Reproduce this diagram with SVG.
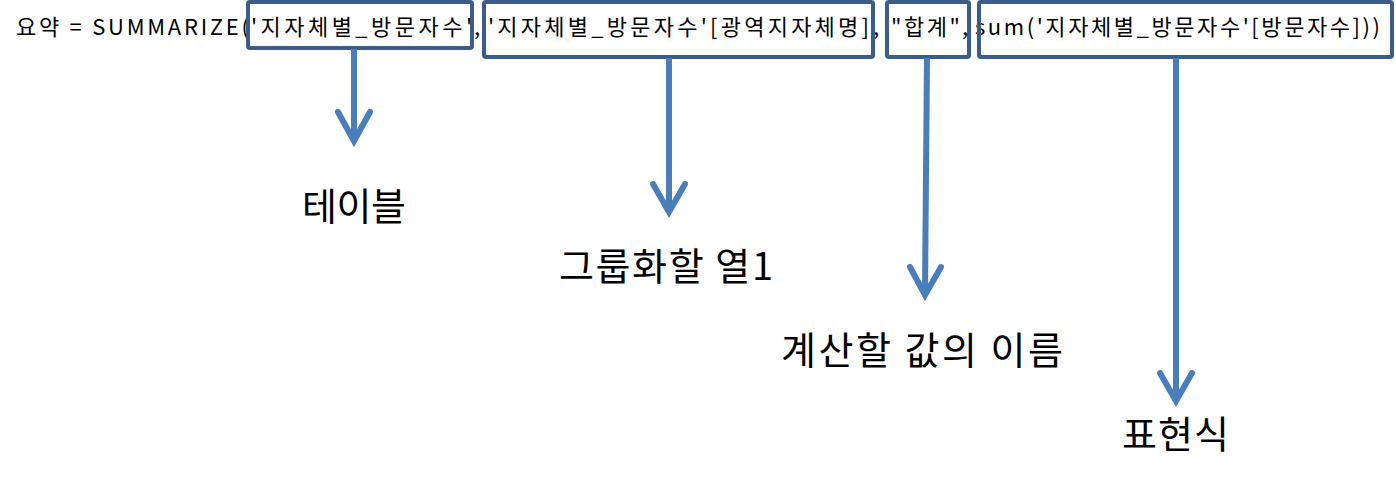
<svg xmlns="http://www.w3.org/2000/svg" width="1396" height="480" viewBox="0 0 1396 480">
<style>
.code{font-family:"Noto Sans CJK KR","Noto Sans",sans-serif;font-size:22px;fill:#000}
.lbl{font-family:"Noto Sans CJK KR","Noto Sans",sans-serif;font-size:38px;fill:#000}
.box{fill:none;stroke:#3A5D8C;stroke-width:4}
.shaft{stroke:#4A7EBB;stroke-width:6;fill:none}
.head{stroke:#4A7EBB;stroke-width:6;fill:none;stroke-linecap:round;stroke-linejoin:miter}
</style>
<rect width="1396" height="480" fill="#fff"/>
<g id="formula">
<text class="code" x="16" y="35" textLength="233">요약 = SUMMARIZE(</text>
<text class="code" x="251" y="35" textLength="221">'지자체별_방문자수'</text>
<text class="code" x="474" y="35">,</text>
<text class="code" x="488" y="35" textLength="381">'지자체별_방문자수'[광역지자체명]</text>
<text class="code" x="873" y="35">,</text>
<text class="code" x="891" y="35" textLength="69">"합계"</text>
<text class="code" x="962" y="35">,</text>
<text class="code" x="975" y="35" textLength="405">sum('지자체별_방문자수'[방문자수]))</text>
</g>
<g id="box-table"><rect class="box" x="248" y="2" width="224" height="46" rx="2"/></g>
<g id="box-group"><rect class="box" x="484" y="2" width="389" height="55" rx="2"/></g>
<g id="box-name"><rect class="box" x="887" y="2" width="82" height="55" rx="2"/></g>
<g id="box-expr"><rect class="box" x="979" y="2" width="413" height="55" rx="2"/></g>
<g id="connectors">
<line class="shaft" x1="354" y1="49" x2="354" y2="138"/>
<polyline class="head" points="338,112 354,141 370,112"/>
<line class="shaft" x1="669" y1="58" x2="669" y2="208"/>
<polyline class="head" points="653,184 669,212 685,184"/>
<line class="shaft" x1="927" y1="58" x2="925" y2="292"/>
<polyline class="head" points="910,267 925,295 941,267"/>
<line class="shaft" x1="1176" y1="58" x2="1176" y2="398"/>
<polyline class="head" points="1160,373 1176,401 1192,373"/>
</g>
<g id="label-table"><text class="lbl" x="302" y="220" textLength="104">테이블</text></g>
<g id="label-group"><text class="lbl" x="559" y="280" textLength="214">그룹화할 열1</text></g>
<g id="label-name"><text class="lbl" x="781" y="364" textLength="282">계산할 값의 이름</text></g>
<g id="label-expr"><text class="lbl" x="1122" y="448" textLength="107">표현식</text></g>
</svg>
